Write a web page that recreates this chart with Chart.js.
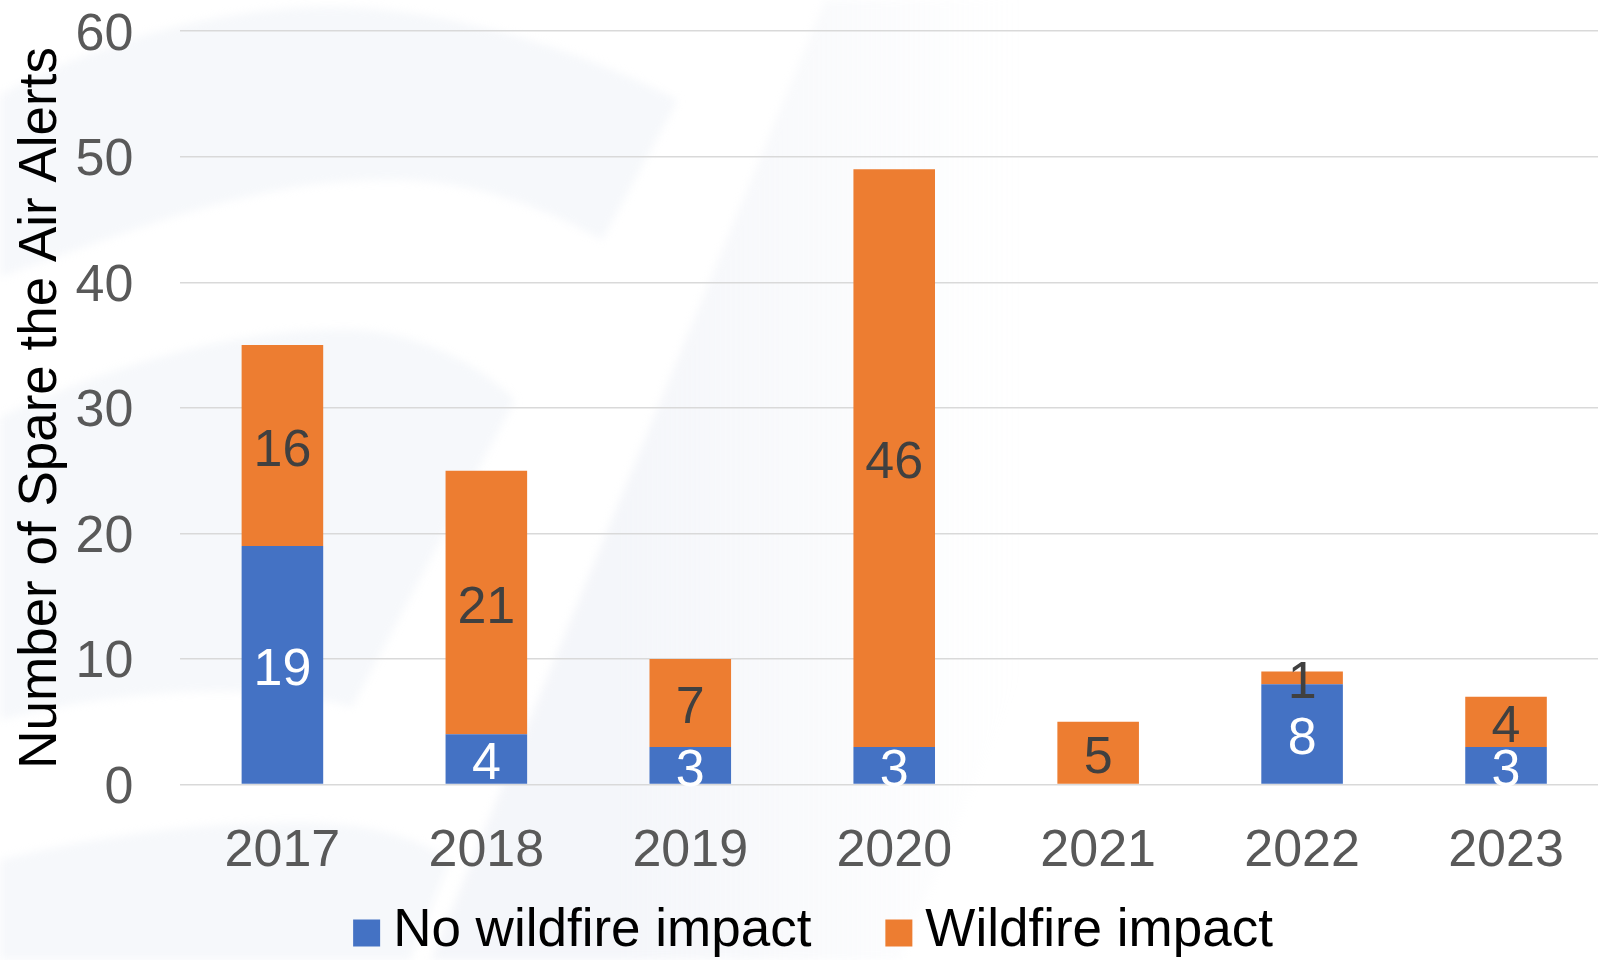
<!DOCTYPE html>
<html>
<head>
<meta charset="utf-8">
<title>Spare the Air Alerts</title>
<script src="https://cdn.jsdelivr.net/npm/chart.js@4.4.0/dist/chart.umd.min.js"></script>
<style>
  html, body { margin: 0; padding: 0; background: #fff; overflow: hidden; }
  canvas { display: block; }
</style>
</head>
<body>
<canvas id="alertsChart" width="1626" height="960"></canvas>
<script>
// Spare the Air alerts per year, split by wildfire impact
const years = ['2017', '2018', '2019', '2020', '2021', '2022', '2023'];
const noWildfire = [19, 4, 3, 3, 0, 8, 3];
const wildfire = [16, 21, 7, 46, 5, 1, 4];
const yTicks = [0, 10, 20, 30, 40, 50, 60];

const FONT = "'Liberation Sans', Arial, sans-serif";

// Faint swoosh artwork behind the chart
const backdrop = {
    id: 'backdrop',
    beforeDraw(chart) {
        const ctx = chart.ctx;
        ctx.save();
        ctx.fillStyle = '#fff';
        ctx.fillRect(0, 0, chart.width, chart.height);
        ctx.filter = 'blur(4px)';
        ctx.fillStyle = 'rgba(222, 227, 239, 0.26)';

        ctx.beginPath();
        ctx.moveTo(0, 95);
        ctx.bezierCurveTo(120, 30, 250, 2, 360, 8);
        ctx.bezierCurveTo(480, 15, 600, 60, 678, 100);
        ctx.lineTo(602, 240);
        ctx.bezierCurveTo(530, 200, 460, 178, 378, 180);
        ctx.bezierCurveTo(240, 182, 110, 240, 0, 277);
        ctx.closePath();
        ctx.fill();

        ctx.beginPath();
        ctx.moveTo(0, 417);
        ctx.bezierCurveTo(120, 360, 250, 326, 357, 330);
        ctx.bezierCurveTo(420, 333, 480, 365, 515, 400);
        ctx.lineTo(352, 707);
        ctx.bezierCurveTo(250, 680, 120, 690, 0, 720);
        ctx.closePath();
        ctx.fill();

        ctx.beginPath();
        ctx.moveTo(0, 860);
        ctx.bezierCurveTo(100, 835, 220, 820, 320, 823);
        ctx.bezierCurveTo(380, 826, 420, 840, 450, 860);
        ctx.lineTo(410, 960);
        ctx.lineTo(0, 960);
        ctx.closePath();
        ctx.fill();

        // diagonal sheet fading to the right
        const grad = ctx.createLinearGradient(620, 480, 1020, 480);
        grad.addColorStop(0, 'rgba(222, 227, 239, 0.32)');
        grad.addColorStop(1, 'rgba(222, 227, 239, 0)');
        ctx.fillStyle = grad;
        ctx.beginPath();
        ctx.moveTo(825, 0);
        ctx.lineTo(1300, 0);
        ctx.lineTo(900, 960);
        ctx.lineTo(431, 960);
        ctx.closePath();
        ctx.fill();
        ctx.restore();
    }
};

// Value written in the middle of each stacked segment
const segmentLabels = {
    id: 'segmentLabels',
    afterDatasetsDraw(chart) {
        const ctx = chart.ctx;
        ctx.save();
        ctx.font = '52px ' + FONT;
        ctx.textAlign = 'center';
        ctx.textBaseline = 'middle';
        chart.data.datasets.forEach((ds, i) => {
            chart.getDatasetMeta(i).data.forEach((bar, j) => {
                const v = ds.data[j];
                if (!v) return;
                ctx.fillStyle = ds.labelColor;
                ctx.fillText(String(v), bar.x, (bar.y + bar.base) / 2 + 6);
            });
        });
        ctx.restore();
    }
};

// Legend row under the axis
const bottomLegend = {
    id: 'bottomLegend',
    afterDraw(chart) {
        const ctx = chart.ctx;
        const box = 27, gap = 13, spacing = 74, y = 931;
        ctx.save();
        ctx.font = '53px ' + FONT;
        ctx.textBaseline = 'middle';
        const items = chart.data.datasets.map(ds => ({
            label: ds.label,
            color: ds.backgroundColor,
            w: ctx.measureText(ds.label).width
        }));
        const total = items.reduce((s, it) => s + box + gap + it.w, 0) + spacing * (items.length - 1);
        let x = (chart.width - total) / 2;
        items.forEach(it => {
            ctx.fillStyle = it.color;
            ctx.fillRect(x, y + 2 - box / 2, box, box);
            ctx.fillStyle = '#000';
            ctx.fillText(it.label, x + box + gap, y);
            x += box + gap + it.w + spacing;
        });
        ctx.restore();
    }
};

const ctx = document.getElementById('alertsChart').getContext('2d');
new Chart(ctx, {
    type: 'bar',
    data: {
        labels: years,
        datasets: [{
            label: 'No wildfire impact',
            data: noWildfire,
            backgroundColor: '#4472C4',
            labelColor: '#ffffff'
        }, {
            label: 'Wildfire impact',
            data: wildfire,
            backgroundColor: '#ED7D31',
            labelColor: '#404040'
        }]
    },
    options: {
        responsive: false,
        animation: false,
        layout: {
            padding: { top: 0, right: 18, bottom: 77, left: 0 }
        },
        datasets: {
            bar: { categoryPercentage: 1, barPercentage: 0.4 }
        },
        scales: {
            x: {
                stacked: true,
                // invisible tick marks keep the labels clear of the baseline
                grid: { drawOnChartArea: false, tickLength: 36, tickColor: 'rgba(0,0,0,0)' },
                border: { display: false },
                ticks: {
                    color: '#595959',
                    font: { family: FONT, size: 52 },
                    padding: 0
                }
            },
            y: {
                stacked: true,
                min: yTicks[0],
                max: yTicks[yTicks.length - 1],
                border: { display: false },
                grid: { color: '#d9d9d9', lineWidth: 1.5, tickLength: 47, tickColor: 'rgba(0,0,0,0)' },
                ticks: {
                    stepSize: yTicks[1] - yTicks[0],
                    color: '#595959',
                    font: { family: FONT, size: 52 },
                    padding: 0,
                    labelOffset: 4
                },
                title: {
                    display: true,
                    text: 'Number of Spare the Air Alerts',
                    color: '#000',
                    font: { family: FONT, size: 53 },
                    padding: { top: 10, bottom: 2 }
                }
            }
        },
        plugins: {
            legend: { display: false },
            tooltip: { enabled: false }
        }
    },
    plugins: [backdrop, segmentLabels, bottomLegend]
});
</script>
</body>
</html>
